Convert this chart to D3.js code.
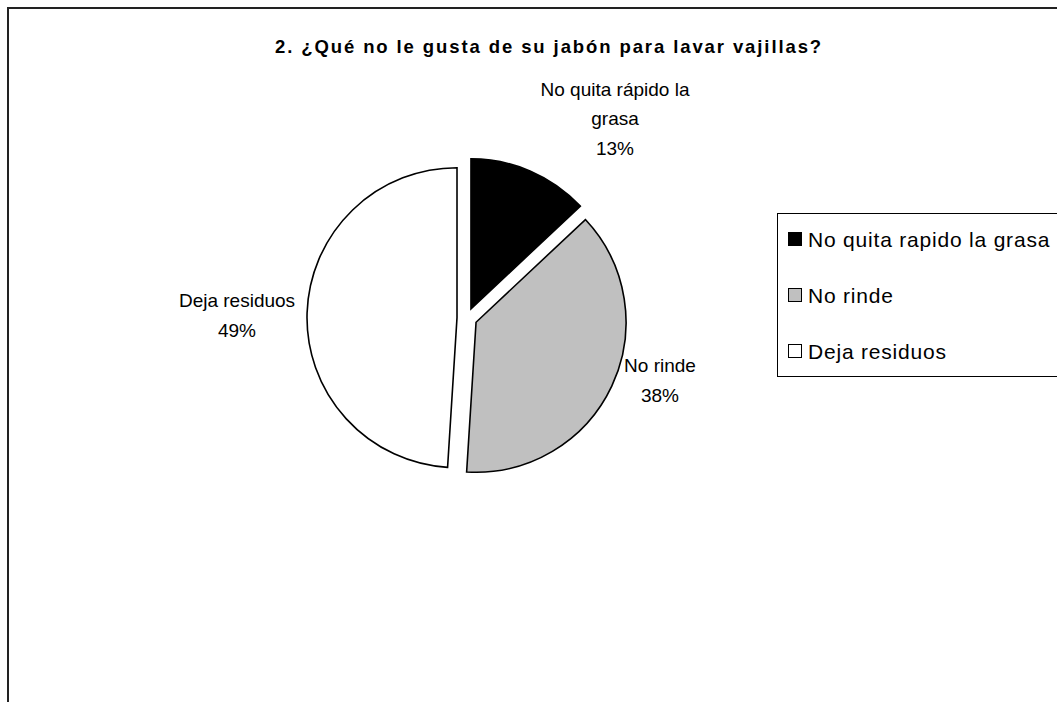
<!DOCTYPE html>
<html>
<head>
<meta charset="utf-8">
<script src="https://cdn.jsdelivr.net/npm/d3@7"></script>
<style>
  html, body { margin: 0; padding: 0; background: #fff; }
  svg { display: block; }
  text { font-family: "Liberation Sans", Arial, sans-serif; fill: #000; }
</style>
</head>
<body>
<svg id="chart" width="1057" height="702"></svg>
<script>
// ---- data ----
const title = "2. ¿Qué no le gusta de su jabón para lavar vajillas?";
const categories = ["No quita rápido la grasa", "No rinde", "Deja residuos"];
const legendLabels = ["No quita rapido la grasa", "No rinde", "Deja residuos"];
const labelLines = [["No quita rápido la", "grasa"], ["No rinde"], ["Deja residuos"]];
const values = [13, 38, 49];
const colors = ["#000000", "#C0C0C0", "#FFFFFF"];

// ---- layout ----
const W = 1057, H = 702;
const svg = d3.select("#chart");
const cx = 467, cy = 318, R = 150, explode = 10;

// chart area border (extends beyond right/bottom edges)
svg.append("rect")
  .attr("x", 8).attr("y", 8)
  .attr("width", W + 20).attr("height", H + 20)
  .attr("fill", "#fff").attr("stroke", "#222").attr("stroke-width", 2);

// title
svg.append("text")
  .attr("x", 549).attr("y", 53)
  .attr("text-anchor", "middle")
  .style("font-size", "18.5px").style("font-weight", "bold")
  .style("letter-spacing", "1.9px")
  .text(title);

const total = d3.sum(values);
const pie = d3.pie().sort(null).value(d => d)(values);
const arc = d3.arc().innerRadius(0).outerRadius(R);

const g = svg.append("g").attr("transform", `translate(${cx},${cy})`);
g.selectAll("path.slice").data(pie).join("path")
  .attr("class", "slice")
  .attr("d", arc)
  .attr("transform", d => {
    const a = (d.startAngle + d.endAngle) / 2;
    return `translate(${explode * Math.sin(a)},${-explode * Math.cos(a)})`;
  })
  .attr("fill", (d, i) => colors[i])
  .attr("stroke", "#000").attr("stroke-width", 1.6)
  .attr("stroke-linejoin", "miter");

// data labels (positioned around the pie, best-fit style)
const labelPos = [
  { x: 615, y: 95.5 },
  { x: 660, y: 372 },
  { x: 237, y: 307 }
];
const lineH = 29.5;
pie.forEach((d, i) => {
  const pct = Math.round(d.value / total * 100) + "%";
  const lines = labelLines[i].concat([pct]);
  const t = svg.append("text")
    .attr("text-anchor", "middle")
    .style("font-size", "19px");
  lines.forEach((ln, j) => {
    t.append("tspan").attr("x", labelPos[i].x).attr("y", labelPos[i].y + j * lineH).text(ln);
  });
});

// legend
const lgX = 777, lgY = 213, rowH = 56;
svg.append("rect")
  .attr("x", lgX + 0.5).attr("y", lgY + 0.5)
  .attr("width", W).attr("height", rowH * 3 - 5)
  .attr("fill", "#fff").attr("stroke", "#000").attr("stroke-width", 1);
const lg = svg.append("g");
legendLabels.forEach((lab, i) => {
  const yc = lgY + 26 + i * rowH;
  lg.append("rect")
    .attr("x", 788.5).attr("y", yc - 6.5)
    .attr("width", 13).attr("height", 13)
    .attr("fill", colors[i]).attr("stroke", "#000").attr("stroke-width", 1);
  lg.append("text")
    .attr("x", 808).attr("y", yc + 7.5)
    .style("font-size", "21px").style("letter-spacing", "0.8px")
    .text(lab);
});
</script>
</body>
</html>
